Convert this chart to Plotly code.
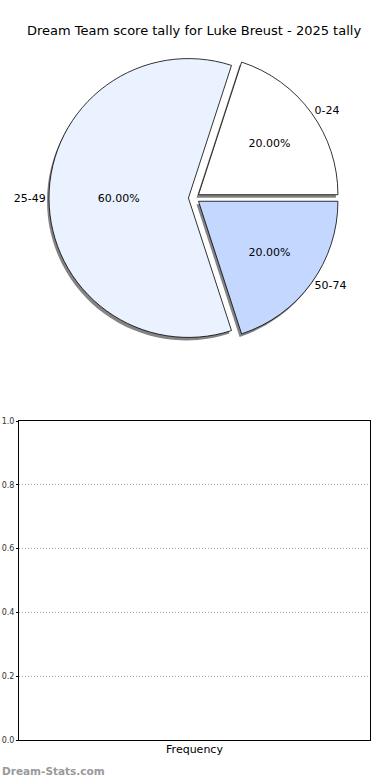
import plotly.graph_objects as go

# Data
categories = ["0-24", "25-49", "50-74"]
values = [1, 3, 1]
colors = ["#FFFFFF", "#EBF2FF", "#C4D8FF"]
pulls = [0.04, 0.04, 0.04]
title_text = "Dream Team score tally for Luke Breust - 2025 tally"
y_ticks = [0.0, 0.2, 0.4, 0.6, 0.8, 1.0]

W, H = 390, 780
FONT = "DejaVu Sans"
ROT = 18

def fx(x):
    return x / W

def fy(y):
    return 1 - y / H

def px_dom(x0, x1, y0, y1):
    return dict(x=[fx(x0), fx(x1)], y=[fy(y1), fy(y0)])

fig = go.Figure()

# shadow
fig.add_trace(go.Pie(
    labels=categories, values=values, sort=False, direction="counterclockwise",
    rotation=ROT, pull=pulls,
    marker=dict(colors=["#666666"] * 3, line=dict(width=0)),
    textinfo="none", hoverinfo="skip", showlegend=False, opacity=0.8,
    domain=px_dom(37, 347, 56, 346),
))

# main pie with percentages inside
fig.add_trace(go.Pie(
    labels=categories, values=values, sort=False, direction="counterclockwise",
    rotation=ROT, pull=pulls,
    marker=dict(colors=colors, line=dict(color="black", width=0.8)),
    texttemplate="%{percent:.2%}", textposition="inside",
    insidetextorientation="horizontal",
    textfont=dict(family=FONT, size=11, color="black"),
    showlegend=False,
    domain=px_dom(39, 349, 53, 343),
))

# labels outside (transparent overlay)
fig.add_trace(go.Pie(
    labels=categories, values=values, sort=False, direction="counterclockwise",
    rotation=ROT, pull=pulls,
    marker=dict(colors=["rgba(0,0,0,0)"] * 3, line=dict(width=0)),
    textinfo="label", textposition="outside",
    textfont=dict(family=FONT, size=11, color="black"),
    showlegend=False, hoverinfo="skip",
    domain=px_dom(39, 349, 53, 343),
))

# empty cartesian axes
fig.add_trace(go.Scatter(x=[], y=[], mode="markers", showlegend=False))

fig.update_layout(
    width=W, height=H,
    margin=dict(l=0, r=0, t=0, b=0, autoexpand=False),
    paper_bgcolor="white", plot_bgcolor="white",
    font=dict(family=FONT, color="black"),
    title=dict(text=title_text, x=fx(194), xanchor="center", y=fy(30),
               yanchor="middle", font=dict(family=FONT, size=13, color="black")),
    xaxis=dict(domain=[fx(19), fx(370)], range=[0, 1], showticklabels=False,
               ticks="", showgrid=False, zeroline=False, automargin=False,
               showline=True, linecolor="black", linewidth=1, mirror=True,
               title=dict(text="Frequency", font=dict(family=FONT, size=11, color="black"),
                          standoff=5)),
    yaxis=dict(domain=[fy(740), fy(421)], range=[0, 1],
               tickvals=y_ticks, tickformat=".1f", automargin=False,
               tickfont=dict(family=FONT, size=8, color="#333333"),
               ticks="outside", ticklen=2, tickcolor="black",
               showgrid=True, gridcolor="#aaaaaa", griddash="1px,2px", gridwidth=1,
               zeroline=False, showline=True, linecolor="black", linewidth=1,
               mirror=True),
    annotations=[dict(text="<b>Dream-Stats.com</b>", xref="paper", yref="paper",
                      x=fx(0), y=fy(771), xanchor="left", yanchor="middle",
                      showarrow=False,
                      font=dict(family=FONT, size=10.5, color="#999999"))],
)

fig.write_html("out.html", config={"displayModeBar": False},
               post_script="document.body.style.margin='0px';document.body.style.padding='0px';")
